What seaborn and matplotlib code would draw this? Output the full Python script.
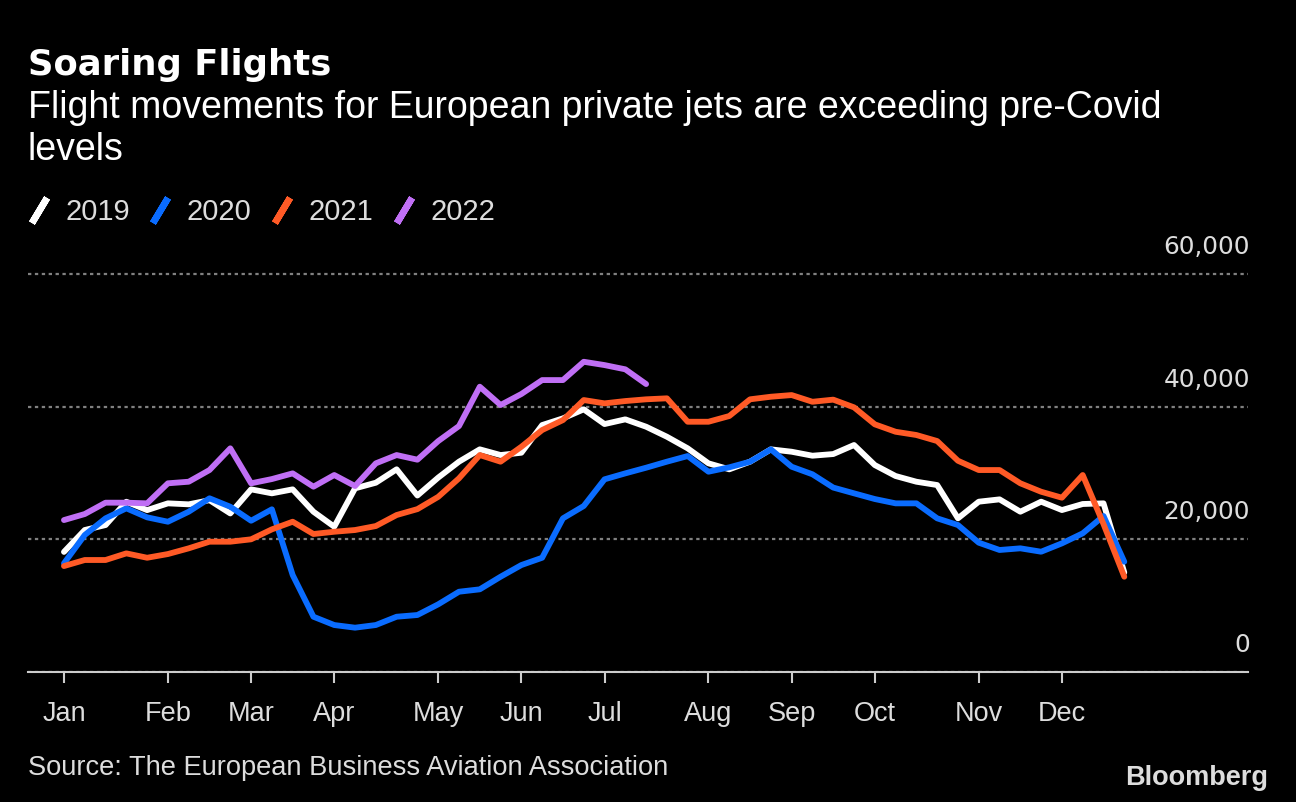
import matplotlib
matplotlib.use("Agg")
import numpy as np
import pandas as pd
import matplotlib.pyplot as plt
import matplotlib.transforms as mtransforms
from matplotlib.lines import Line2D
import seaborn as sns

# ---------------- data (weekly flight movements) ----------------
years = ["2019", "2020", "2021", "2022"]

flights_2019 = [18100, 21400, 22150, 25660, 24400, 25420, 25270, 25900, 23900, 27530,
                26930, 27530, 24160, 21900, 27680, 28530, 30550, 26600, 29300, 31700,
                33560, 32700, 33050, 37220, 38230, 39590, 37370, 38080, 36970, 35460,
                33710, 31450, 30550, 31700, 33560, 33200, 32600, 32850, 34210, 31190,
                29540, 28680, 28180, 23160, 25670, 26020, 24160, 25670, 24410, 25320,
                25420, 15000]

flights_2020 = [16380, 20650, 23160, 24670, 23310, 22650, 24160, 26180, 24910, 22800,
                24520, 14620, 8330, 7080, 6680, 7080, 8330, 8590, 10200, 12100,
                12460, 14360, 16120, 17220, 23160, 25020, 29040, 29940, 30790, 31700,
                32550, 30190, 30850, 31700, 33560, 30940, 29800, 27800, 26930, 26070,
                25420, 25420, 23160, 22150, 19490, 18390, 18640, 18130, 19390, 20900,
                23510, 16620]

flights_2021 = [15970, 16880, 16880, 17880, 17220, 17780, 18640, 19640, 19640, 20000,
                21500, 22650, 20800, 21140, 21400, 22000, 23660, 24550, 26400, 29190,
                32700, 31700, 33950, 36470, 37970, 40990, 40490, 40840, 41100, 41250,
                37720, 37720, 38580, 41100, 41490, 41740, 40730, 41050, 39890, 37330,
                36210, 35720, 34810, 31840, 30440, 30440, 28440, 27170, 26270, 29690,
                22300, 14360]

flights_2022 = [22900, 23810, 25520, 25520, 25420, 28440, 28680, 30440, 33710, 28440,
                29080, 29940, 27930, 29690, 28030, 31450, 32700, 32000, 34800, 37070,
                43000, 40240, 41900, 44000, 44000, 46760, 46260, 45620, 43400]

month_labels = ["Jan", "Feb", "Mar", "Apr", "May", "Jun", "Jul",
                "Aug", "Sep", "Oct", "Nov", "Dec"]
month_weeks = [0, 5, 9, 13, 18, 22, 26, 31, 35, 39, 44, 48]
y_ticks = [0, 20000, 40000, 60000]

colors = {"2019": "#ffffff", "2020": "#0a6cff", "2021": "#ff5a26", "2022": "#c06ff5"}

rows = []
for yr, vals in zip(years, [flights_2019, flights_2020, flights_2021, flights_2022]):
    for wk, v in enumerate(vals):
        rows.append((yr, wk, v))
df = pd.DataFrame(rows, columns=["year", "week", "flights"])

# ---------------- style ----------------
sns.set_theme(style="dark")
plt.rcParams["font.family"] = ["Liberation Sans", "DejaVu Sans"]

W, H = 1296, 802
fig = plt.figure(figsize=(W / 100, H / 100), dpi=100, facecolor="black")
ax = fig.add_axes([28 / W, 1 - 672 / H, 1220 / W, (672 - 258) / H])
ax.set_facecolor("black")

sns.lineplot(data=df, x="week", y="flights", hue="year", hue_order=years,
             palette=colors, linewidth=4.2, legend=False, ax=ax,
             errorbar=None, estimator=None, sort=False)

ax.set_xlim(-1.73, 56.95)
ax.set_ylim(0, 62400)
ax.set_xlabel("")
ax.set_ylabel("")

# x axis
ax.set_xticks(month_weeks)
ax.set_xticklabels(month_labels)
ax.tick_params(axis="x", bottom=True, colors="#cccccc", labelcolor="#dddddd",
               length=8, width=1.5, direction="out", pad=13, labelsize=19.5)

# y axis (labels on the right, above the gridlines)
ax.yaxis.tick_right()
ax.set_yticks(y_ticks)
ax.set_yticklabels([f"{v:,}" for v in y_ticks])
ax.tick_params(axis="y", left=False, right=False, length=0, pad=0,
               labelsize=17.8, labelcolor="#dddddd", labelright=True, labelleft=False)
offset = mtransforms.ScaledTranslation(2 / 100, 20 / 100, fig.dpi_scale_trans)
for lab in ax.get_yticklabels():
    lab.set_ha("right")
    lab.set_va("baseline")
    lab.set_fontfamily(["DejaVu Sans"])
    lab.set_transform(lab.get_transform() + offset)

ax.grid(axis="y", color="#808080", linestyle=(0, (1.5, 1.6)), linewidth=1.6)
ax.grid(axis="x", visible=False)

for s in ["top", "left", "right"]:
    ax.spines[s].set_visible(False)
ax.spines["bottom"].set_color("#cccccc")
ax.spines["bottom"].set_linewidth(1.5)

# legend with slanted strokes
handles = [Line2D([], [], linestyle="none", marker=(2, 2, -31), markersize=21,
                  markeredgewidth=4.8, markeredgecolor=colors[y]) for y in years]
fig.legend(handles, years, loc="upper left", bbox_to_anchor=(24 / W, 1 - 198 / H),
           ncol=4, frameon=False, fontsize=21, labelcolor="#dddddd",
           handlelength=1.0, handletextpad=0.41, columnspacing=0.55,
           borderpad=0, borderaxespad=0)

# texts
fig.text(28 / W, 1 - 75 / H, "Soaring Flights", fontsize=25.5, fontweight="bold",
         color="white", family=["DejaVu Sans"], va="baseline")
fig.text(28 / W, 1 - 118 / H,
         "Flight movements for European private jets are exceeding pre-Covid",
         fontsize=27, color="white", va="baseline")
fig.text(28 / W, 1 - 160 / H, "levels", fontsize=27, color="white", va="baseline")
fig.text(28 / W, 1 - 775 / H, "Source: The European Business Aviation Association",
         fontsize=19.6, color="#dddddd", va="baseline")
fig.text(1268 / W, 1 - 785 / H, "Bloomberg", fontsize=19.5, fontweight="bold",
         color="#dddddd", ha="right", va="baseline")

fig.savefig("out.png", dpi=100, facecolor="black")
